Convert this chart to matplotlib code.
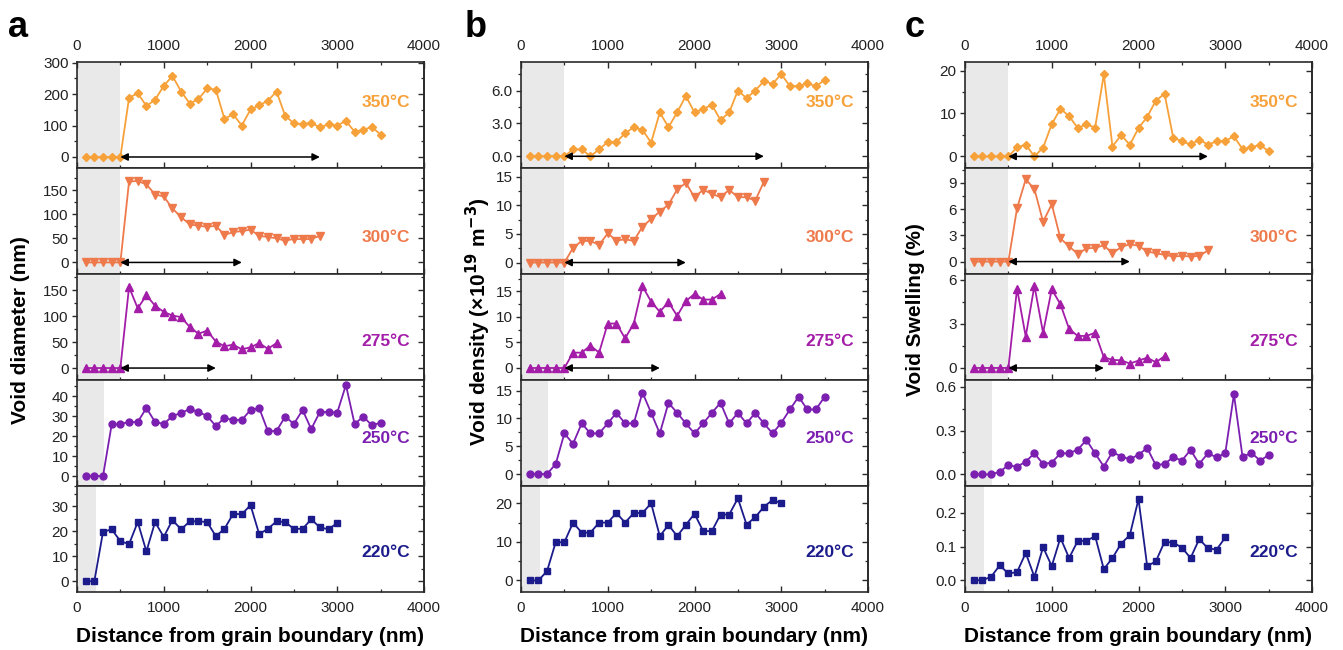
import matplotlib
matplotlib.use("Agg")
from matplotlib import pyplot as plt
from matplotlib.ticker import MultipleLocator, FormatStrFormatter

plt.rcParams['font.family'] = ['Liberation Sans', 'DejaVu Sans']

# distance from grain boundary (nm), sampling positions
dist = [100, 200, 300, 400, 500, 600, 700, 800, 900, 1000, 1100, 1200,
        1300, 1400, 1500, 1600, 1700, 1800, 1900, 2000, 2100, 2200, 2300,
        2400, 2500, 2600, 2700, 2800, 2900, 3000, 3100, 3200, 3300, 3400, 3500]

temps = ['350°C', '300°C', '275°C', '250°C', '220°C']
colors = ['#F7A13A', '#EE7A4C', '#A31DA8', '#7B1FB0', '#1B1B8C']
markers = ['D', 'v', '^', 'o', 's']
msizes = [4.2, 5.5, 5.5, 5, 4.5]
zone_end = [500, 500, 500, 310, 215]      # grey (denuded) zone edge
arrow_end = [2800, 1900, 1600, None, None]

# a: void diameter (nm)
diam_350 = [0, 0, 0, 0, 0, 188, 203, 162, 182, 226, 258, 208, 170, 184, 218, 214,
            121, 136, 100, 151, 164, 179, 208, 131, 107, 104, 109, 94, 104, 100,
            115, 80, 87, 95, 71]
diam_300 = [0, 0, 0, 0, 0, 168, 169, 162, 141, 137, 112, 94, 79, 76, 74, 76, 57,
            63, 65, 68, 55, 53, 50, 45, 49, 48, 49, 55]
diam_275 = [0, 0, 0, 0, 0, 156, 115, 140, 120, 108, 101, 98, 79, 66, 72, 51, 42,
            45, 36, 40, 48, 37, 48]
diam_250 = [0, 0, 0, 25.8, 26, 27, 27, 34, 27, 26, 30, 31.5, 33.5, 32, 30, 25, 29,
            28, 28, 33, 34, 22.5, 22.5, 29.7, 26, 33, 23.5, 32, 32, 31.7, 45.5,
            26, 29.7, 25.3, 26.7]
diam_220 = [0, 0, 19.7, 20.7, 16, 14.8, 23.6, 11.9, 23.6, 17.7, 24.4, 20.7, 23.9,
            23.9, 23.6, 18, 20.9, 26.9, 26.7, 30.4, 18.8, 20.9, 23.9, 23.6, 20.9,
            20.9, 24.7, 21.5, 20.7, 23.3]

# b: void density (x1e19 m^-3)
dens_350 = [0, 0, 0, 0, 0, 0.63, 0.63, 0, 0.63, 1.3, 1.3, 2.1, 2.65, 2.4, 1.25,
            4.0, 2.65, 4.0, 5.5, 4.0, 4.3, 4.7, 3.3, 4.0, 6.0, 5.3, 6.0, 6.85, 6.6,
            7.5, 6.4, 6.4, 6.65, 6.4, 6.95]
dens_300 = [0, 0, 0, 0, 0, 2.55, 3.77, 3.77, 3.07, 5.1, 3.83, 4.06, 3.77, 6.26,
            7.6, 8.9, 10.1, 12.75, 13.9, 11.4, 12.7, 12.0, 11.4, 12.7, 11.4, 11.4,
            10.8, 14.1]
dens_275 = [0, 0, 0, 0, 0, 3.0, 3.0, 4.4, 3.0, 8.7, 8.7, 5.8, 8.7, 16.0, 13.0,
            11.0, 12.9, 10.2, 13.1, 14.5, 13.4, 13.4, 14.5]
dens_250 = [0, 0, 0, 1.8, 7.3, 5.45, 9.1, 7.3, 7.3, 9.1, 11.0, 9.1, 9.1, 14.65,
            11.0, 7.3, 12.8, 11.0, 9.1, 7.3, 9.1, 11.0, 12.8, 9.1, 11.0, 9.1, 11.0,
            9.1, 7.3, 9.2, 11.6, 13.9, 11.6, 11.6, 13.9]
dens_220 = [0, 0, 2.4, 9.9, 9.9, 15, 12.4, 12.4, 15, 15, 17.5, 15, 17.5, 17.5, 20,
            11.5, 14.4, 11.5, 14.4, 17.3, 12.8, 12.8, 17.1, 17.1, 21.3, 14.5, 16.4,
            19.1, 20.9, 20]

# c: void swelling (%)
swel_350 = [0, 0, 0, 0, 0, 2.1, 2.75, 0, 2.05, 7.5, 11.1, 9.4, 6.6, 7.5, 6.7, 19.1,
            2.3, 5.0, 2.7, 6.6, 9.2, 13.0, 14.6, 4.4, 3.5, 2.8, 3.9, 2.75, 3.5, 3.6,
            4.7, 1.65, 2.1, 2.7, 1.2]
swel_300 = [0, 0, 0, 0, 0, 6.1, 9.4, 8.3, 4.55, 6.55, 2.65, 1.73, 0.88, 1.5, 1.58,
            1.85, 0.96, 1.65, 2.0, 1.8, 1.15, 0.96, 0.77, 0.58, 0.65, 0.58, 0.65, 1.27]
swel_275 = [0, 0, 0, 0, 0, 5.4, 2.14, 5.6, 2.4, 5.36, 4.34, 2.66, 2.18, 2.18, 2.4,
            0.73, 0.55, 0.52, 0.3, 0.5, 0.7, 0.39, 0.8]
swel_250 = [0, 0, 0, 0.018, 0.063, 0.052, 0.088, 0.144, 0.072, 0.081, 0.144, 0.144,
            0.17, 0.235, 0.144, 0.054, 0.153, 0.122, 0.104, 0.135, 0.18, 0.063,
            0.072, 0.117, 0.095, 0.167, 0.072, 0.144, 0.117, 0.144, 0.548, 0.117,
            0.149, 0.095, 0.131]
swel_220 = [0, 0, 0.01, 0.044, 0.02, 0.024, 0.081, 0.01, 0.098, 0.042, 0.126, 0.066,
            0.117, 0.117, 0.131, 0.033, 0.066, 0.109, 0.134, 0.241, 0.042, 0.056,
            0.114, 0.112, 0.097, 0.066, 0.122, 0.095, 0.091, 0.127]

columns = [
    dict(letter='a', ylabel='Void diameter (nm)', ylab_x=21, ylab_y=330,
         series=[diam_350, diam_300, diam_275, diam_250, diam_220],
         ylims=[(-35, 302), (-24, 196), (-23, 181), (-5, 48), (-4.3, 38)],
         steps=[(100, 50), (50, 25), (50, 25), (10, 5), (10, 5)],
         fmt=['%d'] * 5),
    dict(letter='b', ylabel='Void density (×10$^{\\mathbf{19}}$ m$^{\\mathbf{-3}}$)',
         ylab_x=478, ylab_y=322,
         series=[dens_350, dens_300, dens_275, dens_250, dens_220],
         ylims=[(-1.07, 8.6), (-2.0, 16.5), (-2.35, 18.4), (-2.15, 16.9), (-3.0, 24.5)],
         steps=[(3, 1.5), (5, 2.5), (5, 2.5), (5, 2.5), (10, 5)],
         fmt=['%.1f', '%d', '%d', '%d', '%d']),
    dict(letter='c', ylabel='Void Swelling (%)', ylab_x=916, ylab_y=310,
         series=[swel_350, swel_300, swel_275, swel_250, swel_220],
         ylims=[(-2.7, 22), (-1.42, 10.7), (-0.82, 6.4), (-0.079, 0.645), (-0.035, 0.28)],
         steps=[(10, 5), (3, 1.5), (3, 1.5), (0.3, 0.15), (0.1, 0.05)],
         fmt=['%d', '%d', '%d', '%.1f', '%.1f']),
]

W, H = 1343, 650
fig = plt.figure(figsize=(W / 100, H / 100), dpi=100)

col_left = [77, 521, 965]
col_w = 347
row_top = [62, 168, 274, 380, 486]
row_h = 106
spine_c = '#2a2a2a'
tick_fs = 11

for ci, col in enumerate(columns):
    for ri in range(5):
        x0 = col_left[ci] / W
        y0 = 1 - (row_top[ri] + row_h) / H
        ax = fig.add_axes([x0, y0, col_w / W, row_h / H])
        y = col['series'][ri]
        xs = dist[:len(y)]
        ax.axvspan(0, zone_end[ri], color='#E9E9E9', lw=0, zorder=0)
        ax.plot(xs, y, color=colors[ri], marker=markers[ri], ms=msizes[ri],
                lw=1.3, zorder=3)
        if arrow_end[ri] is not None:
            ax.annotate('', xy=(arrow_end[ri], 0), xytext=(zone_end[ri], 0),
                        arrowprops=dict(arrowstyle='<|-|>', color='black', lw=1.1,
                                        mutation_scale=11, shrinkA=0, shrinkB=0),
                        zorder=4)
        ax.text(0.96, [0.62, 0.34, 0.36, 0.45, 0.37][ri], temps[ri],
                transform=ax.transAxes, ha='right', va='center', color=colors[ri],
                fontsize=12.5, fontweight='bold')

        ax.set_xlim(0, 4000)
        ax.set_ylim(*col['ylims'][ri])
        ax.xaxis.set_major_locator(MultipleLocator(1000))
        ax.xaxis.set_minor_locator(MultipleLocator(500))
        major, minor = col['steps'][ri]
        ax.yaxis.set_major_locator(MultipleLocator(major))
        ax.yaxis.set_minor_locator(MultipleLocator(minor))
        ax.yaxis.set_major_formatter(FormatStrFormatter(col['fmt'][ri]))

        for s in ax.spines.values():
            s.set_color(spine_c)
            s.set_linewidth(1.2)
        ax.tick_params(axis='y', which='both', direction='out', left=True,
                       right=False, labelsize=tick_fs, pad=2.5, colors=spine_c,
                       labelcolor='#222222')
        ax.tick_params(axis='y', which='major', length=3.5, width=1)
        ax.tick_params(axis='y', which='minor', length=2, width=0.9)
        ax.tick_params(axis='x', which='both', direction='in', bottom=True,
                       top=(ri == 0), labeltop=(ri == 0), labelbottom=(ri == 4),
                       labelsize=tick_fs, pad=6.5, colors=spine_c, labelcolor='#222222')
        ax.tick_params(axis='x', which='major', length=4, width=1)
        ax.tick_params(axis='x', which='minor', length=2.5, width=0.9)

        sec = ax.secondary_yaxis('right')
        sec.yaxis.set_major_locator(MultipleLocator(major))
        sec.yaxis.set_minor_locator(MultipleLocator(minor))
        sec.tick_params(which='both', direction='in', labelright=False, colors=spine_c)
        sec.tick_params(which='major', length=4, width=1)
        sec.tick_params(which='minor', length=2.5, width=0.9)
        sec.spines['right'].set_color(spine_c)
        sec.spines['right'].set_linewidth(1.2)

    cx = (col_left[ci] + col_w / 2) / W
    fig.text(cx, 1 - 637 / H, 'Distance from grain boundary (nm)', ha='center',
             va='center', fontsize=15, fontweight='bold')
    fig.text(col['ylab_x'] / W, 1 - col['ylab_y'] / H, col['ylabel'], rotation=90,
             ha='center', va='center', fontsize=15, fontweight='bold')

fig.text(8 / W, 1 - 37 / H, 'a', fontsize=26, fontweight='bold', va='baseline')
fig.text(465 / W, 1 - 37 / H, 'b', fontsize=26, fontweight='bold', va='baseline')
fig.text(905 / W, 1 - 37 / H, 'c', fontsize=26, fontweight='bold', va='baseline')

fig.savefig('out.png', dpi=100)
